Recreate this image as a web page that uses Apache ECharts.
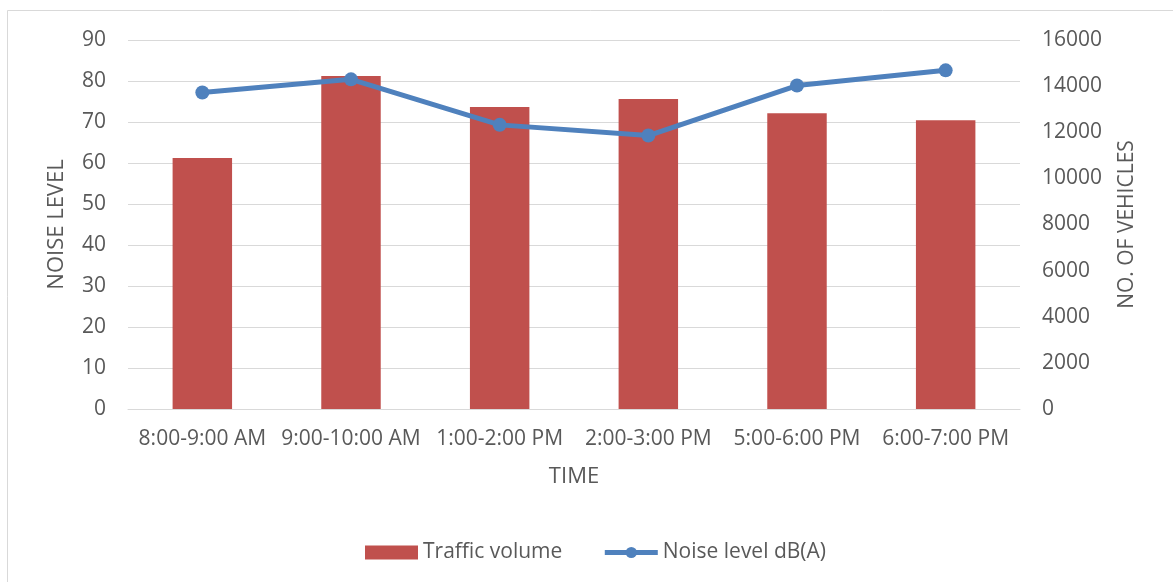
<!DOCTYPE html>
<html>
<head>
<meta charset="utf-8">
<script src="https://cdn.jsdelivr.net/npm/echarts@6/dist/echarts.min.js"></script>
<style>
  html, body { margin: 0; padding: 0; background: #ffffff; }
  #chart { width: 1173px; height: 582px; }
</style>
</head>
<body>
<div id="chart"></div>
<script>
// Hourly time slots
const timeSlots = ['8:00-9:00 AM', '9:00-10:00 AM', '1:00-2:00 PM', '2:00-3:00 PM', '5:00-6:00 PM', '6:00-7:00 PM'];
// Number of vehicles per slot (right axis)
const trafficVolume = [10880, 14440, 13100, 13440, 12820, 12520];
// Measured noise level in dB(A) (left axis)
const noiseLevel = [77.2, 80.4, 69.3, 66.7, 78.9, 82.6];

const textColor = '#595959';
const gridColor = '#D9D9D9';
const fontFamily = 'Open Sans, sans-serif';
const labelSize = 21;
const nameSize = 22;

const chart = echarts.init(document.getElementById('chart'));
chart.setOption({
  animation: false,
  backgroundColor: '#ffffff',
  textStyle: { fontFamily: fontFamily, color: textColor },
  graphic: [
    {
      type: 'rect',
      shape: { x: 7.5, y: 10.5, width: 1200, height: 620 },
      style: { fill: 'none', stroke: '#D9D9D9', lineWidth: 1 },
      silent: true
    }
  ],
  grid: { left: 128, right: 153, top: 40, bottom: 173 },
  legend: {
    top: 537,
    left: 360,
    itemGap: 40,
    itemWidth: 53,
    itemHeight: 14,
    textStyle: { color: textColor, fontSize: labelSize, fontFamily: fontFamily },
    data: [
      { name: 'Traffic volume', icon: 'rect' },
      { name: 'Noise level dB(A)', lineStyle: { width: 5 } }
    ]
  },
  xAxis: {
    type: 'category',
    data: timeSlots,
    name: 'TIME',
    nameLocation: 'middle',
    nameGap: 57,
    nameTextStyle: { color: textColor, fontSize: nameSize, fontFamily: fontFamily },
    axisLine: { show: true, lineStyle: { color: gridColor, width: 1 } },
    axisTick: { show: false },
    axisLabel: { color: textColor, fontSize: labelSize, margin: 20, interval: 0, fontFamily: fontFamily }
  },
  yAxis: [
    {
      type: 'value',
      min: 0,
      max: 90,
      interval: 10,
      name: 'NOISE LEVEL',
      nameLocation: 'middle',
      nameGap: 60,
      nameRotate: 90,
      nameTextStyle: { color: textColor, fontSize: nameSize, fontFamily: fontFamily },
      axisLine: { show: false },
      axisTick: { show: false },
      axisLabel: { color: textColor, fontSize: labelSize, margin: 22, fontFamily: fontFamily },
      splitLine: { show: true, lineStyle: { color: gridColor, width: 1 } }
    },
    {
      type: 'value',
      min: 0,
      max: 16000,
      interval: 2000,
      name: 'NO. OF VEHICLES',
      nameLocation: 'middle',
      nameGap: 97,
      nameRotate: 90,
      nameTextStyle: { color: textColor, fontSize: 21, fontFamily: fontFamily },
      axisLine: { show: false },
      axisTick: { show: false },
      axisLabel: {
        color: textColor,
        fontSize: labelSize,
        margin: 22,
        fontFamily: fontFamily,
        formatter: function (v) { return String(v); }
      },
      splitLine: { show: false }
    }
  ],
  series: [
    {
      name: 'Traffic volume',
      type: 'bar',
      yAxisIndex: 1,
      data: trafficVolume,
      barWidth: '40%',
      itemStyle: { color: '#C0504D' },
      z: 2
    },
    {
      name: 'Noise level dB(A)',
      type: 'line',
      yAxisIndex: 0,
      data: noiseLevel,
      symbol: 'circle',
      symbolSize: 14,
      lineStyle: { color: '#4F81BD', width: 5 },
      itemStyle: { color: '#4F81BD' },
      z: 3
    }
  ]
});
</script>
</body>
</html>
